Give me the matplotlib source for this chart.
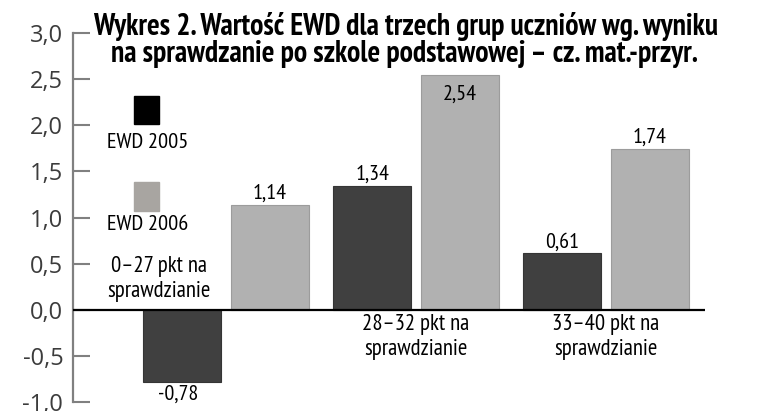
import matplotlib
matplotlib.use('Agg')
import matplotlib.pyplot as plt
from matplotlib.patches import Rectangle
import numpy as np

# data
groups = ['0\u201327 pkt na\nsprawdzianie',
          '28\u201332 pkt na\nsprawdzianie',
          '33\u201340 pkt na\nsprawdzianie']
ewd_2005 = [-0.78, 1.34, 0.61]
ewd_2006 = [1.14, 2.54, 1.74]
series_names = ['EWD 2005', 'EWD 2006']
y_ticks = [-1.0, -0.5, 0.0, 0.5, 1.0, 1.5, 2.0, 2.5, 3.0]

title_lines = ['Wykres 2. Warto\u015b\u0107 EWD dla trzech grup uczni\u00f3w wg. wyniku',
               'na sprawdzanie po szkole podstawowej \u2013 cz. mat.-przyr.']

dark = '#404040'
light = '#b1b1b1'
# condensed faces first, plain DejaVu as the last resort
narrow = ['PT Sans Narrow', 'Fira Sans Condensed', 'Roboto Condensed',
          'Archivo Narrow', 'Barlow Semi Condensed', 'Liberation Sans Narrow',
          'DejaVu Sans']


def fmt(v):
    return ('%.2f' % v).replace('.', ',')


def fit(texts, target_px, renderer):
    # scale font size so the first text gets the wanted pixel width
    w = texts[0].get_window_extent(renderer).width
    size = texts[0].get_fontsize() * target_px / w
    for t in texts:
        t.set_fontsize(size)
    return size


fig = plt.figure(figsize=(7.79, 4.11), dpi=100)
ax = fig.add_axes([0.0937, 0.0219, 0.8113, 0.8978])

x = np.arange(len(groups))
w = 0.41
off = 0.23
b1 = ax.bar(x - off, ewd_2005, w, color=dark, edgecolor='#353535', linewidth=0.8)
b2 = ax.bar(x + off, ewd_2006, w, color=light, edgecolor='#9c9c9c', linewidth=0.8)

ax.set_xlim(-0.805, 2.521)
ax.set_ylim(-1.0, 3.0)
ax.axhline(0, color='black', lw=1.6, zorder=3)

# value labels
value_texts = []
for bars, vals in ((b1, ewd_2005), (b2, ewd_2006)):
    for rect, v in zip(bars, vals):
        cx = rect.get_x() + rect.get_width() / 2
        if v < 0:
            t = ax.annotate(fmt(v), (cx, v), xytext=(-3, -2), textcoords='offset points',
                            ha='center', va='top', fontsize=14, family=narrow)
        elif v > 2.3:
            t = ax.annotate(fmt(v), (cx, v), xytext=(0, -7), textcoords='offset points',
                            ha='center', va='top', fontsize=14, family=narrow)
        else:
            t = ax.annotate(fmt(v), (cx, v), xytext=(0, 1.5), textcoords='offset points',
                            ha='center', va='bottom', fontsize=14, family=narrow)
        value_texts.append(t)
# put the 2,54 label first: it is the one measured for fitting
value_texts.sort(key=lambda t: t.get_text() != '2,54')

# group labels: first one sits above the zero line, others below
group_texts = [ax.text(x[0] - 0.353, 0.336, groups[0], ha='center', va='center',
                       fontsize=14, family=narrow)]
for i in x[1:]:
    group_texts.append(ax.text(i, -0.298, groups[i], ha='center', va='center',
                               fontsize=14, family=narrow))
group_texts.insert(0, group_texts.pop(1))

# axis styling
for s in ['top', 'right', 'bottom']:
    ax.spines[s].set_visible(False)
ax.spines['left'].set_color('#808080')
ax.spines['left'].set_linewidth(1.6)
ax.set_xticks([])
ax.set_yticks(y_ticks)
ax.set_yticklabels([('%.1f' % t).replace('.', ',') for t in y_ticks])
ax.tick_params(axis='y', direction='in', length=12, width=1.5, color='#808080',
               pad=7, labelsize=17, labelcolor='#3c3c3c')
for lab in ax.get_yticklabels():
    lab.set_family(['Open Sans', 'DejaVu Sans'])

# legend drawn as squares with captions underneath
fig.add_artist(Rectangle((0.172, 0.698), 0.032, 0.068, transform=fig.transFigure,
                         color='black'))
fig.add_artist(Rectangle((0.172, 0.4866), 0.032, 0.0706, transform=fig.transFigure,
                         color='#a8a5a1'))
legend_texts = [fig.text(0.189, 0.6545, series_names[0], ha='center', va='center',
                         fontsize=14, family=narrow),
                fig.text(0.189, 0.4526, series_names[1], ha='center', va='center',
                         fontsize=14, family=narrow)]

title_texts = [fig.text(0.52, 0.9148, title_lines[0], ha='center', va='baseline',
                        fontsize=16, fontweight='bold', family=narrow),
               fig.text(0.519, 0.8491, title_lines[1], ha='center', va='baseline',
                        fontsize=16, fontweight='bold', family=narrow)]

fig.canvas.draw()
r = fig.canvas.get_renderer()
fit(title_texts, 626, r)
fit(value_texts, 34, r)
fit(legend_texts, 82, r)
gs = fit(group_texts, 108, r)
for t in group_texts:
    t.set_linespacing(29 / (gs * 100 / 72))

fig.savefig('out.png', dpi=100)
